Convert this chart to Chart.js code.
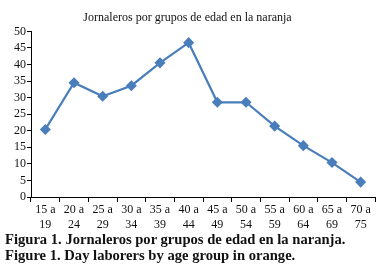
<!DOCTYPE html>
<html>
<head>
<meta charset="utf-8">
<script src="https://cdn.jsdelivr.net/npm/chart.js@4/dist/chart.umd.min.js"></script>
<style>
  body { margin: 0; background: #fff; width: 383px; height: 275px; overflow: hidden; }
  #wrap { position: absolute; left: 0; top: 0; width: 383px; height: 232px; }
  .cap { position: absolute; left: 5px; font-family: "Liberation Serif", serif; font-weight: bold; font-size: 14.6px; color: #111; white-space: nowrap; }
</style>
</head>
<body>
<div id="wrap"><canvas id="grafico"></canvas></div>
<div class="cap" style="top:231px">Figura 1. Jornaleros por grupos de edad en la naranja.</div>
<div class="cap" style="top:247px">Figure 1. Day laborers by age group in orange.</div>
<script>
// categorias (grupos de edad) e valores
const grupos = [['15 a','19'],['20 a','24'],['25 a','29'],['30 a','34'],['35 a','39'],['40 a','44'],
                ['45 a','49'],['50 a','54'],['55 a','59'],['60 a','64'],['65 a','69'],['70 a','75']]
const jornaleros = [20.4, 34.5, 30.4, 33.6, 40.5, 46.6, 28.6, 28.6, 21.4, 15.5, 10.4, 4.5]
const yMin = 0
const yMax = 50
const yPaso = 5

const fonte = { family: '"Liberation Serif", serif', size: 12, weight: 'normal' }
const azul = '#4a7ebb'

new Chart(document.getElementById('grafico'), {
    type: 'line',
    data: {
        labels: grupos,
        datasets: [{
            data: jornaleros,
            borderColor: azul,
            backgroundColor: azul,
            borderWidth: 2.2,
            pointStyle: 'rectRot',
            pointRadius: 4,
            tension: 0
        }]
    },
    options: {
        responsive: true,
        maintainAspectRatio: false,
        animation: false,
        layout: { padding: { left: 0, right: 8, top: 0, bottom: 0 } },
        plugins: {
            legend: { display: false },
            tooltip: { enabled: false },
            title: {
                display: true,
                text: 'Jornaleros por grupos de edad en la naranja',
                color: '#111',
                font: fonte,
                padding: { top: 11, bottom: 6 }
            }
        },
        scales: {
            x: {
                offset: true,
                grid: { offset: true, drawOnChartArea: false, color: '#000', tickLength: 5 },
                border: { color: '#000', width: 1 },
                ticks: { color: '#111', font: fonte, maxRotation: 0, autoSkip: false, padding: 1 },
                afterFit: (s) => { s.height = 35 }
            },
            y: {
                min: yMin,
                max: yMax,
                grid: { drawOnChartArea: false, color: '#000', tickLength: 4 },
                border: { color: '#000', width: 1 },
                ticks: { stepSize: yPaso, autoSkip: false, color: '#111', font: fonte, padding: 1 },
                afterFit: (s) => { s.width = 31 }
            }
        }
    }
})
</script>
</body>
</html>
